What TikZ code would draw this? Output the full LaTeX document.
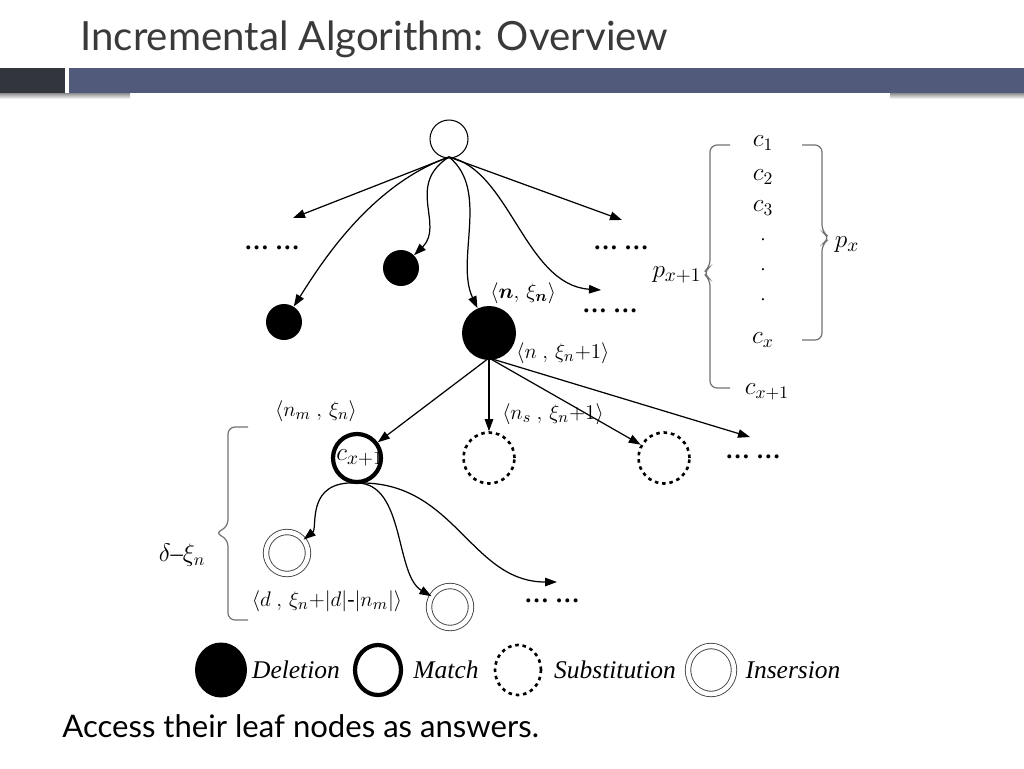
\documentclass[tikz,border=0pt]{standalone}
\usepackage{fontspec}
\usepackage{amsmath}
\setmainfont{Liberation Serif}
\newfontfamily\titlefont{Lato}
\usetikzlibrary{arrows.meta,shapes.geometric}
\definecolor{bardark}{HTML}{33353D}
\definecolor{barblue}{HTML}{525A7B}
\definecolor{titlegray}{HTML}{3A3A3A}
\begin{document}
\begin{tikzpicture}[x=0.02cm,y=-0.02cm,
  arr/.style={-{Triangle[length=0.24cm,width=0.17cm]}, line width=0.7pt},
  delnode/.style={circle, fill=black, inner sep=0pt},
  matchnode/.style={circle, draw, line width=2.4pt, inner sep=0pt},
  subnode/.style={circle, draw, line width=1.5pt, dash pattern=on 2pt off 2.2pt, inner sep=0pt},
  insnode/.style={circle, draw=black!75, line width=0.5pt, double, double distance=2.6pt, inner sep=0pt},
  lbl/.style={font=\fontsize{12.5}{14}\selectfont, inner sep=0pt},
  clbl/.style={font=\fontsize{14}{16}\selectfont, inner sep=0pt},
  plbl/.style={font=\fontsize{15}{16}\selectfont, inner sep=0pt},
  dotsnode/.style={font=\fontsize{14}{16}\selectfont\bfseries, inner sep=0pt},
  bracepath/.style={draw=black!55, line width=0.7pt, rounded corners=4pt},
  legtext/.style={font=\fontsize{14.5}{16}\selectfont\itshape, inner sep=0pt}
]
\useasboundingbox (0,0) rectangle (1024,768);
\fill[white] (0,0) rectangle (1024,768);
% title and bar
\node[anchor=base west, inner sep=0pt, text=titlegray, font=\titlefont\fontsize{22.9}{26}\selectfont] (title) at (80,50) {Incremental Algorithm: Overview};
\fill[bardark] (0,68) rectangle (65,93);
\fill[barblue] (69,68) rectangle (1024,93);
\shade[top color=black!45, bottom color=white] (0,93) rectangle (130,99);
\shade[top color=black!45, bottom color=white] (890,93) rectangle (1024,99);

% top tree
\node[circle, draw, line width=0.6pt, minimum size=0.76cm, inner sep=0pt] (root) at (449,139) {};
\node[delnode, minimum size=0.72cm] (d1) at (284,322) {};
\node[delnode, minimum size=0.72cm] (d2) at (401,268) {};
\node[delnode, minimum size=1.08cm] (n) at (489,333) {};
\node[dotsnode] (dotsL) at (272,248) {… …};
\node[dotsnode] (dotsR1) at (621,248) {… …};
\node[dotsnode] (dotsR2) at (610,311) {… …};
\coordinate (aL) at (293,218);
\coordinate (aR) at (622,220);
\coordinate (aR2) at (601,290);
\coordinate (rs) at (449,157);

\draw[arr] (rs) -- (aL);
\draw[arr] (rs) -- (aR);
\draw[arr] (rs) .. controls (370,185) and (320,265) .. (d1);
\draw[arr] (rs) .. controls (405,185) and (445,225) .. (d2);
\draw[arr] (rs) .. controls (490,190) and (455,260) .. (n);
\draw[arr] (rs) .. controls (510,170) and (525,285) .. (aR2);

\node[lbl, anchor=west] (lbln) at (490,293) {$\langle \boldsymbol{n},\, \xi_{\boldsymbol{n}}\rangle$};
\node[lbl, anchor=west] (lbln1) at (516,353) {$\langle n\ ,\, \xi_n{+}1\rangle$};

% second level
\node[matchnode, minimum size=0.96cm] (m) at (357,458) {};
\node[font=\fontsize{15}{16}\selectfont, inner sep=0pt] (mlbl) at (360,458) {$c_{x+1}$};
\node[subnode, minimum size=1.02cm] (s1) at (489,458) {};
\node[subnode, minimum size=1.02cm] (s2) at (664,458) {};
\node[dotsnode] (dotsM) at (753,457) {… …};
\coordinate (aM) at (750,437);
\coordinate (ns) at (489,358);

\draw[arr] (ns) -- (m);
\draw[arr] (ns) -- (s1);
\draw[arr] (ns) -- (s2);
\draw[arr] (ns) -- (aM);

\node[lbl] (lblm) at (316,411) {$\langle n_m\ ,\, \xi_n\rangle$};
\node[lbl] (lbls) at (553,414) {$\langle n_s\ ,\, \xi_n{+}1\rangle$};

% third level
\node[insnode, minimum size=0.84cm] (i1) at (287,553) {};
\node[insnode, minimum size=0.84cm] (i2) at (450,607) {};
\node[dotsnode] (dotsB) at (552,601) {… …};
\coordinate (aB) at (557,582);
\coordinate (ms) at (357,483);

\draw[arr] (ms) .. controls (305,480) and (318,528) .. (i1);
\draw[arr] (ms) .. controls (405,483) and (395,575) .. (i2);
\draw[arr] (ms) .. controls (455,480) and (470,582) .. (aB);

\node[lbl] (lbld) at (327,601) {$\langle d\ ,\, \xi_n{+}|d|\text{-}|n_m|\rangle$};

% delta brace
\draw[bracepath] (248,427) -- (228,427) -- (228,527) -- (215,533) -- (228,539) -- (228,620) -- (248,620);
\node[lbl, font=\fontsize{14}{16}\selectfont] (delta) at (182,555) {$\delta\text{--}\xi_n$};

% right panel
\node[clbl] (c1) at (763,143) {$c_1$};
\node[clbl] (c2) at (763,177) {$c_2$};
\node[clbl] (c3) at (763,208) {$c_3$};
\node[inner sep=0pt] (p1) at (763,240) {.};
\node[inner sep=0pt] (p2) at (763,270) {.};
\node[inner sep=0pt] (p3) at (763,300) {.};
\node[clbl] (cx) at (763,340) {$c_x$};
\node[clbl] (cx1) at (767,392) {$c_{x+1}$};
\draw[bracepath] (730,145) -- (710,145) -- (710,267) -- (703,273) -- (710,279) -- (710,388) -- (730,388);
\draw[bracepath] (802,145) -- (822,145) -- (822,232) -- (830,238) -- (822,244) -- (822,340) -- (802,340);
\node[plbl] (px1) at (677,275) {$p_{x+1}$};
\node[plbl] (px) at (847,245) {$p_x$};

% legend
\node[ellipse, fill=black, minimum width=1.04cm, minimum height=1.1cm, inner sep=0pt] (legD) at (221,670) {};
\node[legtext] (legDt) at (296,670) {Deletion};
\node[ellipse, draw, line width=2.4pt, minimum width=0.92cm, minimum height=1.0cm, inner sep=0pt] (legM) at (378,670) {};
\node[legtext] (legMt) at (446,670) {Match};
\node[ellipse, draw, line width=1.5pt, dash pattern=on 2pt off 2.2pt, minimum width=0.92cm, minimum height=1.0cm, inner sep=0pt] (legS) at (518,670) {};
\node[legtext] (legSt) at (615,670) {Substitution};
\node[ellipse, draw=black!75, line width=0.5pt, double, double distance=2.6pt, minimum width=0.92cm, minimum height=0.96cm, inner sep=0pt] (legI) at (711,670) {};
\node[legtext] (legIt) at (793,670) {Insersion};

% bottom text
\node[anchor=base west, inner sep=0pt, font=\titlefont\fontsize{17.7}{20}\selectfont] (bottom) at (62,737) {Access their leaf nodes as answers.};
\end{tikzpicture}
\end{document}
